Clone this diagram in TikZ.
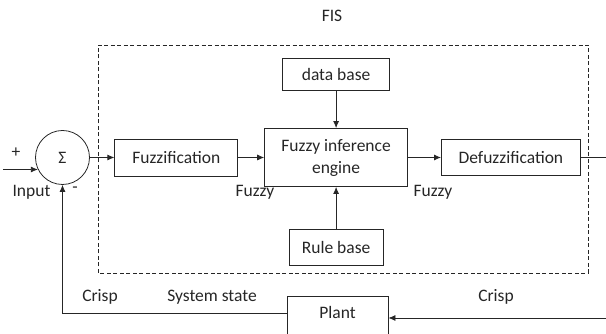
\documentclass[tikz,border=0pt]{standalone}
\usepackage{fontspec}
\setmainfont{Carlito}
\usepackage{xcolor}
\usepackage{tikz}
\usetikzlibrary{arrows.meta,positioning}
\definecolor{ink}{HTML}{262626}
\tikzset{
  block/.style={draw,rectangle,minimum height=36pt,inner sep=0pt,align=center},
  summer/.style={draw,circle,minimum size=54pt,inner sep=0pt},
  tag/.style={inner sep=0pt},
  flows/.style={->,>={Latex[length=7pt,width=6pt]}},
  frame/.style={dash pattern=on 4pt off 2.5pt}
}

\begin{document}
\begin{tikzpicture}[x=1pt,y=1pt,line width=0.8pt,color=ink,
    font=\fontsize{17.5}{22}\selectfont]
  \useasboundingbox (0,0) rectangle (606,334);
  \clip (0,0) rectangle (606,334);

  % controller chain
  \node[summer] (sigma) at (62.5,176.5) {Σ};
  \node[block,minimum width=123pt,minimum height=37pt] (fuzz) [right=24.5pt of sigma] {Fuzzification};
  \node[block,minimum width=143pt,minimum height=58pt] (fie) [right=26pt of fuzz] {Fuzzy inference\\engine};
  \node[block,minimum width=139pt] (defuzz) [right=33pt of fie] {Defuzzification};
  \node[block,minimum width=107pt,minimum height=32pt] (database) [above=37pt of fie] {data base};
  \node[block,minimum width=94pt] (rulebase) [below=42pt of fie] {Rule base};
  \node[block,minimum width=101pt,anchor=north,inner ysep=4pt,text height=18pt,text depth=22pt] (plant) at (337.5,38) {Plant};

  % FIS frame
  \draw[frame] (98,61) rectangle (588,289);

  % labels
  \node[tag] (fis) at (332,318) {FIS};
  \node[tag] (plus) at (16,181) {+};
  \node[tag] (input) at (31.5,142) {Input};
  \node[tag] (minus) at (75,144) {-};
  \node[tag] (fuzzyin) at (255,142) {Fuzzy};
  \node[tag] (fuzzyout) at (433,142) {Fuzzy};
  \node[tag] (crispfb) at (100,37) {Crisp};
  \node[tag] (state) at (212,37) {System state};
  \node[tag] (crispin) at (496,37) {Crisp};

  \coordinate (in) at ([xshift=-35pt]sigma.206);
  \coordinate (fisout) at (606,0);
  \coordinate (plantin) at (606,16);
  \coordinate (fbturn) at (sigma |- 0,21);

  \path[flows]
  (sigma) edge (fuzz)
  (fuzz) edge (fie)
  (fie) edge (defuzz)
  (database) edge (fie)
  (rulebase) edge (fie)
  ;
  \draw[flows] (in) -- (sigma.206);
  \draw (defuzz.east) -- (defuzz.east -| fisout);
  \draw[flows] (plantin) -- (plantin -| plant.east);
  \draw[flows] (plant.west |- fbturn) -- (fbturn) -- (sigma.south);
\end{tikzpicture}
\end{document}
